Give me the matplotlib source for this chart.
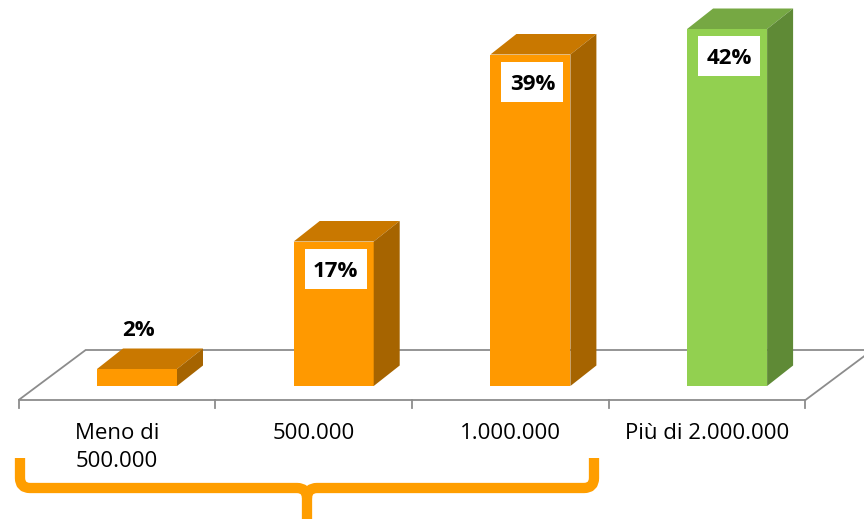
import matplotlib
matplotlib.use('Agg')
import matplotlib.pyplot as plt
from matplotlib.patches import Polygon, Rectangle, PathPatch
from matplotlib.path import Path

CATEGORIES = ['Meno di\n500.000', '500.000', '1.000.000', 'Più di 2.000.000']
SHARES = [2, 17, 39, 42]
LABELS = ['2%', '17%', '39%', '42%']

ORANGE = ('#FF9900', '#C97800', '#A66400')   # front, top, side
GREEN = ('#92D050', '#76A843', '#5F8A36')
BAR_COLORS = [ORANGE, ORANGE, ORANGE, GREEN]

# scale of the drawing: one category step and one percent, in pixels
STEP_PX = 196.7
PCT_PX = 8.5
W, H = 864, 519
X0_PX, Y0_PX = 137, 386     # where bar 0 front centre / baseline land

BAR_W = 80 / STEP_PX
BAR_DX = 26 / STEP_PX
BAR_DY = 20.5 / PCT_PX

FLOOR_FRONT = -14 / PCT_PX
FLOOR_BACK = 36 / PCT_PX
FLOOR_SHIFT = 67 / STEP_PX
EDGE_SHIFT = 20 / STEP_PX   # front edge centre sits left of bar centre

GRID = '#8C8C8C'

plt.rcParams['font.family'] = ['Open Sans', 'DejaVu Sans']

fig = plt.figure(figsize=(W / 100, H / 100), dpi=100)
ax = fig.add_axes([0, 0, 1, 1])
ax.set_xlim(-X0_PX / STEP_PX, (W - X0_PX) / STEP_PX)
ax.set_ylim(-(H - Y0_PX) / PCT_PX, Y0_PX / PCT_PX)
ax.axis('off')

n = len(CATEGORIES)
left = -0.5 - EDGE_SHIFT
right = n - 0.5 - EDGE_SHIFT

# floor of the 3d plot area
floor = Polygon([(left, FLOOR_FRONT), (right, FLOOR_FRONT),
                 (right + FLOOR_SHIFT, FLOOR_BACK), (left + FLOOR_SHIFT, FLOOR_BACK)],
                closed=True, facecolor='white', edgecolor=GRID, linewidth=1.3, zorder=1)
ax.add_patch(floor)

# category tick marks along the front edge
for k in range(n + 1):
    xt = left + k
    ax.plot([xt, xt], [FLOOR_FRONT, FLOOR_FRONT - 8 / PCT_PX], color=GRID, lw=1.3, zorder=1)

for i, (value, (front, top, side)) in enumerate(zip(SHARES, BAR_COLORS)):
    xl = i - BAR_W / 2
    xr = i + BAR_W / 2
    ax.add_patch(Rectangle((xl, 0), BAR_W, value, facecolor=front, edgecolor='none', zorder=3))
    ax.add_patch(Polygon([(xl, value), (xr, value), (xr + BAR_DX, value + BAR_DY),
                          (xl + BAR_DX, value + BAR_DY)], closed=True,
                         facecolor=top, edgecolor='none', zorder=3))
    ax.add_patch(Polygon([(xr, 0), (xr, value), (xr + BAR_DX, value + BAR_DY),
                          (xr + BAR_DX, BAR_DY)], closed=True,
                         facecolor=side, edgecolor='none', zorder=3))

    # value label: white box inside tall bars, plain text above short ones
    if value > 5:
        ly = value - 3.2
        bw, bh = 62 / STEP_PX, 40 / PCT_PX
        ax.add_patch(Rectangle((i + 0.01 - bw / 2, ly - bh / 2), bw, bh,
                               facecolor='white', edgecolor='none', zorder=4))
    else:
        ly = value + 4.8
    ax.text(i + 0.01, ly, LABELS[i], ha='center', va='center_baseline',
            fontsize=16, fontweight='bold', color='black', zorder=5)

    ax.text(i - EDGE_SHIFT, -(423 - Y0_PX) / PCT_PX, CATEGORIES[i], ha='center', va='top',
            fontsize=16, color='black', linespacing=1.45, zorder=5)

# orange brace grouping the first three categories
ov = fig.add_axes([0, 0, 1, 1])
ov.set_xlim(0, W)
ov.set_ylim(H, 0)
ov.axis('off')
ov.patch.set_alpha(0)

brace_color = '#FF9E00'
r = 10
x_l, x_m, x_r, y_b, y_t = 20, 307, 594, 488, 458
verts = [(x_l, y_t), (x_l, y_b - r), (x_l, y_b), (x_l + r, y_b),
         (x_m - r, y_b), (x_m, y_b), (x_m, y_b + r), (x_m, H + 5)]
codes = [Path.MOVETO, Path.LINETO, Path.CURVE3, Path.CURVE3,
         Path.LINETO, Path.CURVE3, Path.CURVE3, Path.LINETO]
ov.add_patch(PathPatch(Path(verts, codes), facecolor='none', edgecolor=brace_color,
                       lw=7.4, capstyle='butt', joinstyle='round'))
verts = [(x_m, y_b + r), (x_m, y_b), (x_m + r, y_b), (x_r - r, y_b),
         (x_r, y_b), (x_r, y_b - r), (x_r, y_t)]
codes = [Path.MOVETO, Path.CURVE3, Path.CURVE3, Path.LINETO,
         Path.CURVE3, Path.CURVE3, Path.LINETO]
ov.add_patch(PathPatch(Path(verts, codes), facecolor='none', edgecolor=brace_color,
                       lw=7.4, capstyle='butt', joinstyle='round'))

fig.savefig('out.png', dpi=100)
